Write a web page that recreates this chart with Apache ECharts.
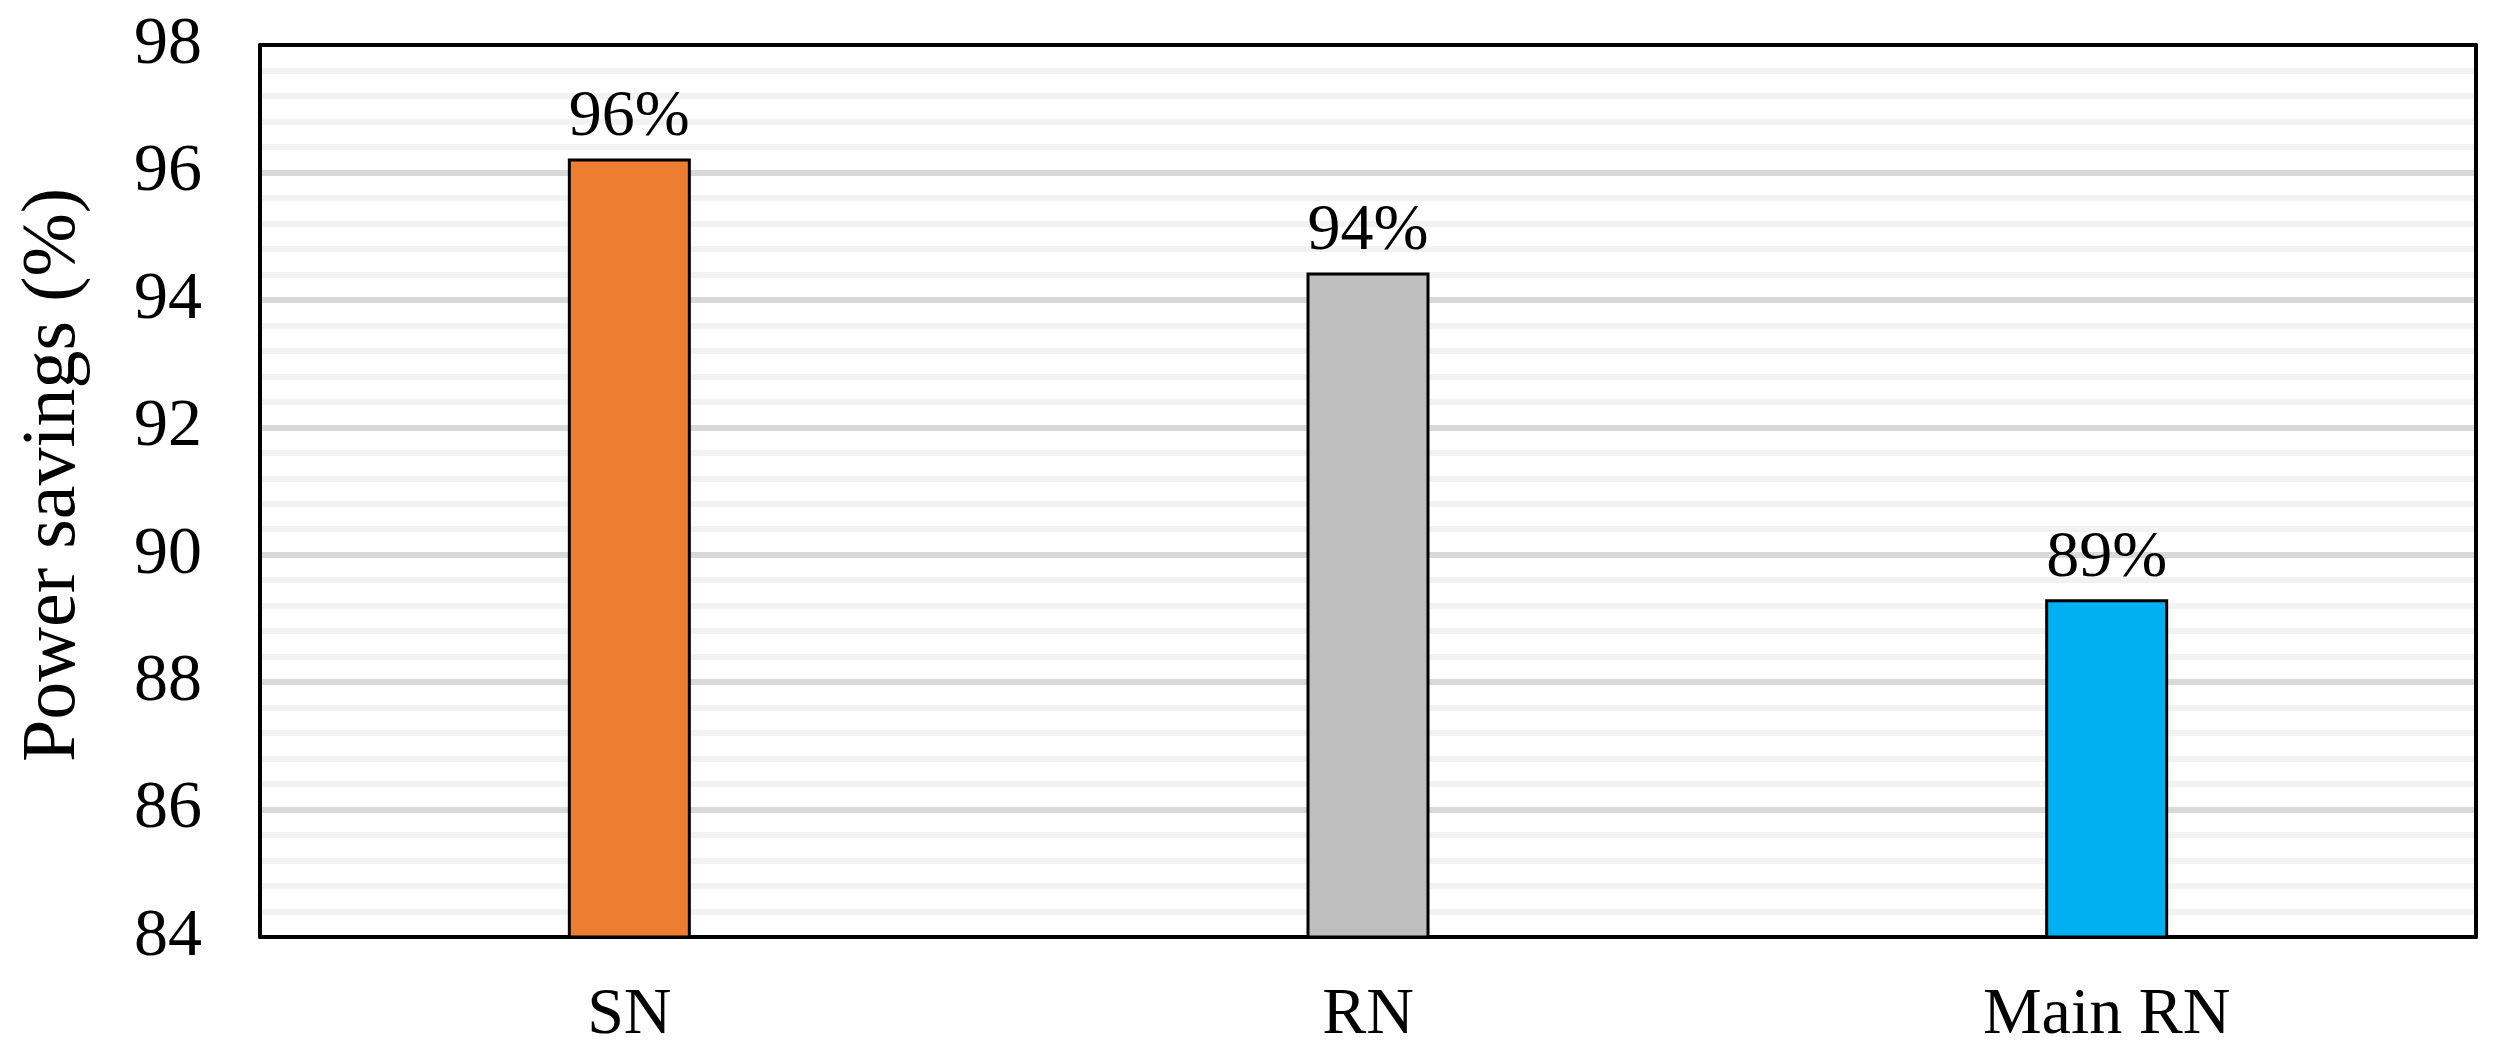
<!DOCTYPE html>
<html>
<head>
<meta charset="utf-8">
<script src="https://cdn.jsdelivr.net/npm/echarts@6/dist/echarts.min.js"></script>
<style>
  html, body { margin: 0; padding: 0; background: #fff; }
  #chart { width: 2495px; height: 1062px; }
</style>
</head>
<body>
<div id="chart"></div>
<script>
// 数据
const categories = ['SN', 'RN', 'Main RN'];
const savings = [96.22, 94.43, 89.3];
const barColors = ['#ED7D31', '#BFBFBF', '#00B0F0'];
const yTicks = [84, 86, 88, 90, 92, 94, 96, 98];

const font = 'Liberation Serif';

const myChart = echarts.init(document.getElementById('chart'), null, { renderer: 'canvas' });

const option = {
  backgroundColor: '#fff',
  animation: false,
  grid: {
    left: 260,
    right: 19,
    top: 45,
    bottom: 125,
    show: false
  },
  xAxis: [
    {
      type: 'category',
      data: categories,
      axisLine: { show: true, lineStyle: { color: '#000', width: 4 } },
      axisTick: { show: false },
      axisLabel: { color: '#000', fontFamily: font, fontSize: 66, margin: 46 }
    },
    {
      // 上边框
      type: 'category',
      position: 'top',
      data: categories,
      axisLine: { show: true, onZero: false, lineStyle: { color: '#000', width: 4 } },
      axisTick: { show: false },
      axisLabel: { show: false }
    }
  ],
  yAxis: [
    {
      type: 'value',
      min: yTicks[0],
      max: yTicks[yTicks.length - 1],
      interval: 2,
      name: 'Power savings (%)',
      nameLocation: 'middle',
      nameGap: 168,
      nameTextStyle: { color: '#000', fontFamily: font, fontSize: 76, padding: [0, 0, 0, 32] },
      axisLine: { show: true, lineStyle: { color: '#000', width: 4 } },
      axisTick: { show: false },
      axisLabel: { color: '#000', fontFamily: font, fontSize: 68, margin: 58 },
      splitLine: { show: true, showMinLine: false, showMaxLine: false, lineStyle: { color: '#d9d9d9', width: 6 } },
      minorTick: { show: false, splitNumber: 5 },
      minorSplitLine: { show: true, lineStyle: { color: '#f2f2f2', width: 6 } }
    },
    {
      // 右边框
      type: 'value',
      position: 'right',
      min: yTicks[0],
      max: yTicks[yTicks.length - 1],
      interval: 2,
      axisLine: { show: true, lineStyle: { color: '#000', width: 4 } },
      axisTick: { show: false },
      axisLabel: { show: false },
      splitLine: { show: false }
    }
  ],
  series: [
    {
      type: 'bar',
      barWidth: 123,
      data: savings.map((v, i) => ({
        value: v,
        itemStyle: { color: barColors[i], borderColor: '#000', borderWidth: 3 }
      })),
      label: {
        show: true,
        position: 'top',
        distance: 8,
        color: '#000',
        fontFamily: font,
        fontSize: 66,
        formatter: (p) => Math.round(p.value) + '%'
      }
    }
  ]
};

myChart.setOption(option);
window.onresize = function () {
  myChart.resize();
};
</script>
</body>
</html>
